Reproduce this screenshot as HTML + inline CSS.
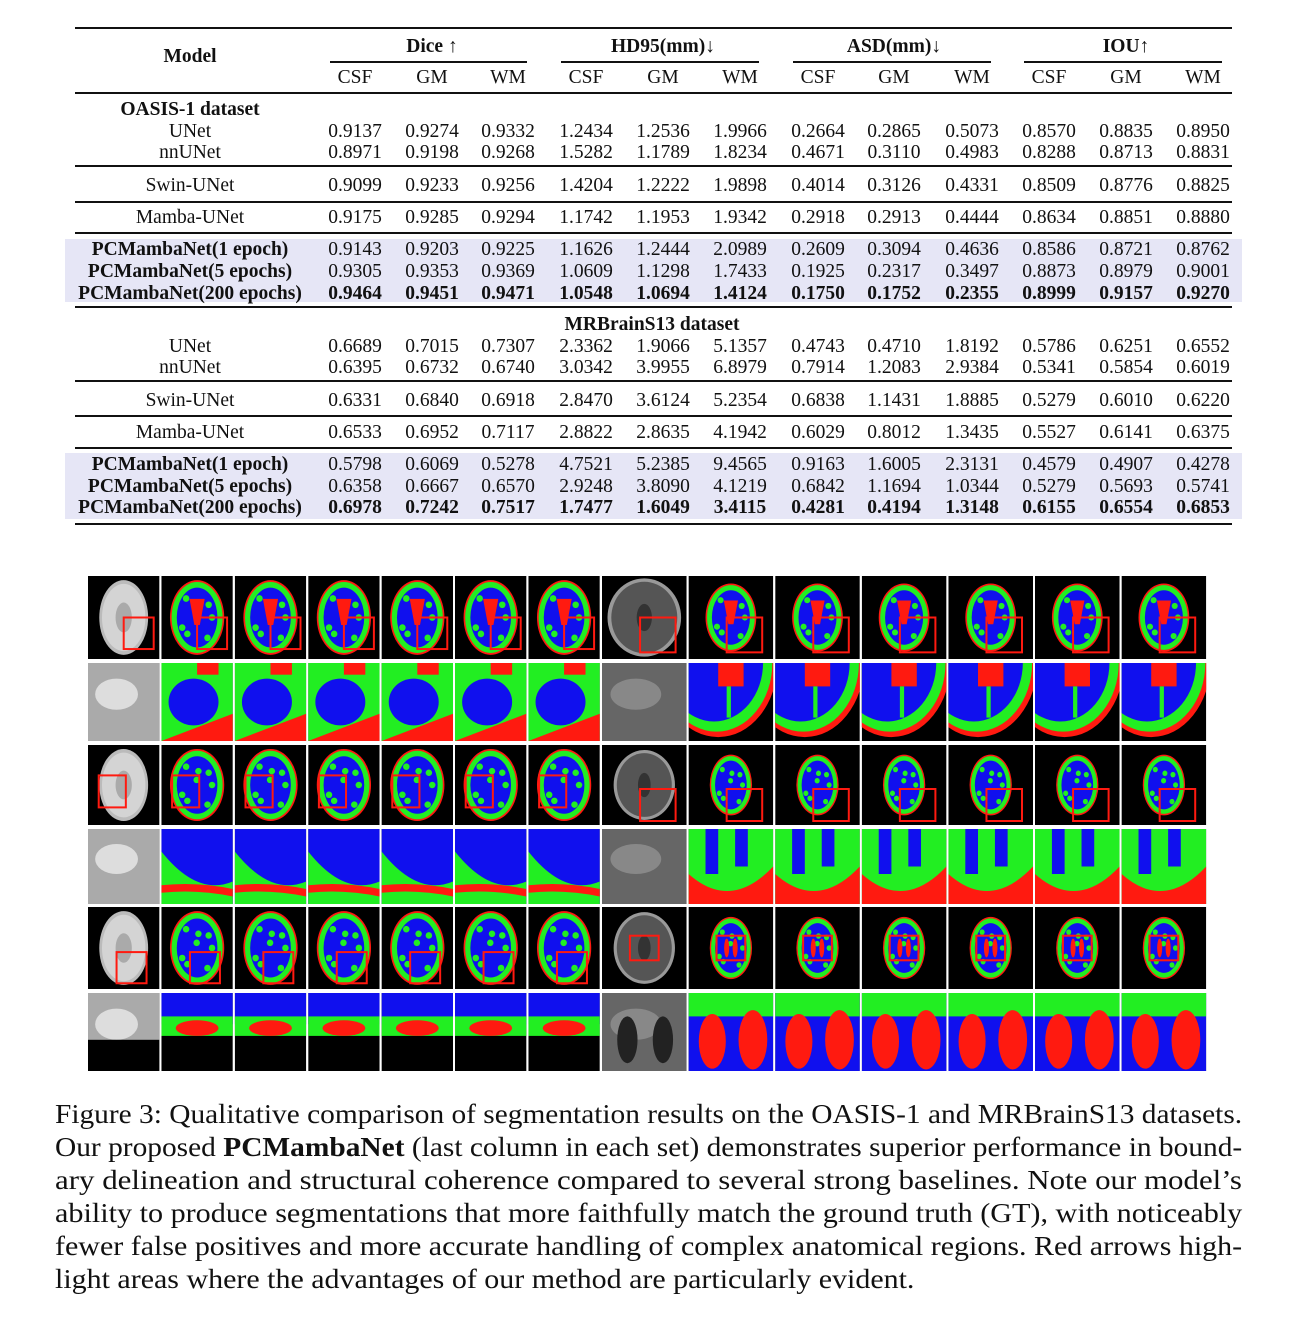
<!DOCTYPE html>
<html><head><meta charset="utf-8">
<style>
html,body{margin:0;padding:0;background:#fff;}
body{width:1297px;height:1326px;position:relative;overflow:hidden;font-family:"Liberation Serif",serif;color:#111;}
.t{position:absolute;font-size:19.5px;white-space:nowrap;transform:translateX(-50%);line-height:22px;}
.b{font-weight:bold;}
.rule{position:absolute;background:#111;}
.shade{position:absolute;background:#e6e6f6;}
.cap{position:absolute;left:55px;font-size:27px;white-space:nowrap;line-height:33px;transform-origin:0 0;}
</style></head>
<body>
<div id="table"></div>
<svg id="grid" style="position:absolute;left:0;top:0" width="1297" height="1090"><defs id="defs"></defs></svg>
<div id="caption"></div>
<script>
const metricGroups=["Dice ↑","HD95(mm)↓","ASD(mm)↓","IOU↑"];
const subCols=["CSF","GM","WM"];
const oasisModels=["UNet","nnUNet","Swin-UNet","Mamba-UNet","PCMambaNet(1 epoch)","PCMambaNet(5 epochs)","PCMambaNet(200 epochs)"];
const oasisVals=[
["0.9137","0.9274","0.9332","1.2434","1.2536","1.9966","0.2664","0.2865","0.5073","0.8570","0.8835","0.8950"],
["0.8971","0.9198","0.9268","1.5282","1.1789","1.8234","0.4671","0.3110","0.4983","0.8288","0.8713","0.8831"],
["0.9099","0.9233","0.9256","1.4204","1.2222","1.9898","0.4014","0.3126","0.4331","0.8509","0.8776","0.8825"],
["0.9175","0.9285","0.9294","1.1742","1.1953","1.9342","0.2918","0.2913","0.4444","0.8634","0.8851","0.8880"],
["0.9143","0.9203","0.9225","1.1626","1.2444","2.0989","0.2609","0.3094","0.4636","0.8586","0.8721","0.8762"],
["0.9305","0.9353","0.9369","1.0609","1.1298","1.7433","0.1925","0.2317","0.3497","0.8873","0.8979","0.9001"],
["0.9464","0.9451","0.9471","1.0548","1.0694","1.4124","0.1750","0.1752","0.2355","0.8999","0.9157","0.9270"]];
const mrModels=oasisModels;
const mrVals=[
["0.6689","0.7015","0.7307","2.3362","1.9066","5.1357","0.4743","0.4710","1.8192","0.5786","0.6251","0.6552"],
["0.6395","0.6732","0.6740","3.0342","3.9955","6.8979","0.7914","1.2083","2.9384","0.5341","0.5854","0.6019"],
["0.6331","0.6840","0.6918","2.8470","3.6124","5.2354","0.6838","1.1431","1.8885","0.5279","0.6010","0.6220"],
["0.6533","0.6952","0.7117","2.8822","2.8635","4.1942","0.6029","0.8012","1.3435","0.5527","0.6141","0.6375"],
["0.5798","0.6069","0.5278","4.7521","5.2385","9.4565","0.9163","1.6005","2.3131","0.4579","0.4907","0.4278"],
["0.6358","0.6667","0.6570","2.9248","3.8090","4.1219","0.6842","1.1694","1.0344","0.5279","0.5693","0.5741"],
["0.6978","0.7242","0.7517","1.7477","1.6049","3.4115","0.4281","0.4194","1.3148","0.6155","0.6554","0.6853"]];

const T=document.getElementById('table');
const colX=[355,432,508,586,663,740,818,894,972,1049,1126,1203];
function txt(s,x,y,bold,name){const d=document.createElement('div');d.className='t'+(bold?' b':'');d.style.left=x+'px';d.style.top=(y-9.5)+'px';d.textContent=s;


T.appendChild(d);}
function rule(x,y,w,h){const d=document.createElement('div');d.className='rule';d.style.cssText=`left:${x}px;top:${y}px;width:${w}px;height:${h}px`;


T.appendChild(d);}
function shade(y,h){const d=document.createElement('div');d.className='shade';d.style.cssText=`left:65px;top:${y}px;width:1177px;height:${h}px`;


T.appendChild(d);}
shade(239,63);shade(453,66);
rule(75,27,1157,2);rule(75,92,1157,2);rule(75,306,1157,2);rule(75,523,1157,2);
[165,201,232,380,415,447].forEach(y=>rule(75,y,1157,1.5));
for(let g=0;g<4;g++){rule(colX[g*3]-25,61,colX[g*3+2]-colX[g*3]+50-6,1.5);
txt(metricGroups[g],colX[g*3+1],45,true,'metric-header');
for(let s=0;s<3;s++)txt(subCols[s],colX[g*3+s],76,false,'sub-header');}
txt("Model",190,55,true,'model-header');
txt("OASIS-1 dataset",190,108,true,'dataset-label');
txt("MRBrainS13 dataset",652,323,true,'dataset-label');
function block(models,vals,ys){models.forEach((m,i)=>{const bold=i>=4;const last=i==6;
txt(m,190,ys[i],bold,'model-name');vals[i].forEach((v,j)=>txt(v,colX[j],ys[i],last,'value-cell'));});}
block(oasisModels,oasisVals,[130,151,184,216,248,270,292]);
block(mrModels,mrVals,[345,366,399,431,463,485,506]);

// Figure
const S=document.getElementById('grid');const NS='http://www.w3.org/2000/svg';const D=document.getElementById('defs');
function el(t,a,p){const e=document.createElementNS(NS,t);for(const k in a)e.setAttribute(k,a[k]);(p||S).appendChild(e);return e;}
const rowsY=[[576,83],[663,78],[745,80],[829,75],[907,82],[993,78]];
const R='#ff1a10',G='#22ee22',B='#1010ee';
let cid=0;
function cell(x,y,w,h,row,col,right){
 const id='c'+(cid++);
 const cp=el('clipPath',{id},D);el('rect',{x,y,width:w,height:h},cp);
 const g=el('g',{'clip-path':`url(#${id})`});
 
 
 el('rect',{x,y,width:w,height:h,fill:'#000'},g);
 const cx=x+w/2,cy=y+h/2;
 const zoom=row%2==1;
 if(!zoom){
  const rx=right?(row==0?0.3:0.25)*w:0.38*w, ry=right?(row==0?0.41:0.38)*h:0.45*h;
  if(col==0){
   el('ellipse',{cx,cy,rx:right?rx*1.45:rx*0.9,ry:right?ry*1.15:ry,fill:right?'#999':'#bbb'},g);
   el('ellipse',{cx,cy,rx:right?rx*1.3:rx*0.8,ry:right?ry*1.05:ry*0.9,fill:right?'#555':'#d4d4d4'},g);
   el('ellipse',{cx,cy,rx:rx*0.3,ry:ry*0.4,fill:right?'#333':'#aaa'},g);
  }else{
   el('ellipse',{cx,cy,rx,ry,fill:R},g);
   el('ellipse',{cx,cy,rx:rx*0.94,ry:ry*0.95,fill:G},g);
   el('ellipse',{cx,cy,rx:rx*0.75,ry:ry*0.8,fill:B},g);
   for(let k=0;k<8;k++)el('ellipse',{cx:cx+Math.cos(k*0.8)*rx*0.55,cy:cy+Math.sin(k*1.7)*ry*0.55,rx:rx*0.12,ry:ry*0.09,fill:G},g);
   if(row==0)el('path',{d:`M${cx-rx*0.28} ${cy-ry*0.5} L${cx+rx*0.28} ${cy-ry*0.5} L${cx+rx*0.1} ${cy+ry*0.2} L${cx-rx*0.1} ${cy+ry*0.2}Z`,fill:R},g);
   if(right&&row==4){el('ellipse',{cx:cx-rx*0.2,cy,rx:rx*0.12,ry:ry*0.3,fill:R},g);el('ellipse',{cx:cx+rx*0.2,cy,rx:rx*0.12,ry:ry*0.3,fill:R},g);}
  }
  let bx,by,bw,bh;
  if(!right){ if(row==0){bx=cx;by=cy;bw=w*0.42;bh=h*0.38;} else if(row==2){bx=cx-w*0.35;by=cy-h*0.12;bw=w*0.38;bh=h*0.4;} else {bx=cx-w*0.1;by=cy+h*0.05;bw=w*0.42;bh=h*0.38;} }
  else { if(row==0){bx=cx-w*0.05;by=cy;bw=w*0.42;bh=h*0.42;} else if(row==2){bx=cx-w*0.05;by=cy+h*0.05;bw=w*0.42;bh=h*0.4;} else {bx=cx-w*0.17;by=cy-h*0.15;bw=w*0.34;bh=h*0.3;} }
  el('rect',{x:bx,y:by,width:bw,height:bh,fill:'none',stroke:R,'stroke-width':2},g);
 }else{
  if(col==0){
   el('rect',{x,y,width:w,height:h,fill:right?'#666':'#aaa'},g);
   el('ellipse',{cx:cx-w*0.1,cy:cy-h*0.1,rx:w*0.3,ry:h*0.2,fill:right?'#888':'#ddd'},g);
   if(right&&row==5){el('ellipse',{cx:x+w*0.3,cy:cy+h*0.1,rx:w*0.12,ry:h*0.3,fill:'#222'},g);el('ellipse',{cx:x+w*0.72,cy:cy+h*0.1,rx:w*0.12,ry:h*0.3,fill:'#222'},g);}
   if(!right&&row==5)el('rect',{x,y:y+h*0.6,width:w,height:h*0.4,fill:'#000'},g);
  }else if(!right){
   if(row==1){el('rect',{x,y,width:w,height:h,fill:G},g);el('ellipse',{cx:cx-w*0.05,cy:cy,rx:w*0.35,ry:h*0.3,fill:B},g);el('path',{d:`M${x} ${y+h} L${x+w} ${y+h*0.65} L${x+w} ${y+h} Z`,fill:R},g);el('rect',{x:cx,y,width:w*0.3,height:h*0.15,fill:R},g);}
   else if(row==3){el('rect',{x,y,width:w,height:h,fill:B},g);el('path',{d:`M${x} ${y+h*0.3} Q${cx} ${y+h*0.9} ${x+w} ${y+h*0.7} L${x+w} ${y+h} L${x} ${y+h} Z`,fill:G},g);el('path',{d:`M${x} ${y+h*0.75} Q${cx} ${y+h*0.7} ${x+w} ${y+h*0.8} L${x+w} ${y+h*0.9} Q${cx} ${y+h*0.8} ${x} ${y+h*0.85}Z`,fill:R},g);}
   else {el('rect',{x,y,width:w,height:h*0.4,fill:B},g);el('rect',{x,y:y+h*0.3,width:w,height:h*0.25,fill:G},g);el('ellipse',{cx,cy:y+h*0.45,rx:w*0.3,ry:h*0.1,fill:R},g);}
  }else{
   if(row==1){el('ellipse',{cx:cx-w*0.15,cy:y,rx:w*0.7,ry:h*0.95,fill:R},g);el('ellipse',{cx:cx-w*0.17,cy:y,rx:w*0.66,ry:h*0.88,fill:G},g);el('ellipse',{cx:cx-w*0.2,cy:y,rx:w*0.58,ry:h*0.75,fill:B},g);el('rect',{x:cx-w*0.15,y,width:w*0.3,height:h*0.3,fill:R},g);el('rect',{x:cx-w*0.05,y:y+h*0.3,width:w*0.05,height:h*0.4,fill:G},g);}
   else if(row==3){el('rect',{x,y,width:w,height:h,fill:G},g);el('path',{d:`M${x} ${y+h*0.6} Q${cx} ${y+h*1.1} ${x+w} ${y+h*0.5} L${x+w} ${y+h} L${x} ${y+h}Z`,fill:R},g);el('rect',{x:x+w*0.2,y,width:w*0.15,height:h*0.6,fill:B},g);el('rect',{x:x+w*0.55,y,width:w*0.15,height:h*0.5,fill:B},g);}
   else {el('rect',{x,y,width:w,height:h,fill:B},g);el('rect',{x,y,width:w,height:h*0.3,fill:G},g);el('ellipse',{cx:x+w*0.28,cy:cy+h*0.12,rx:w*0.16,ry:h*0.35,fill:R},g);el('ellipse',{cx:x+w*0.76,cy:cy+h*0.1,rx:w*0.17,ry:h*0.38,fill:R},g);}
  }
 }
}
for(let r=0;r<6;r++){const [y,h]=rowsY[r];
 for(let c=0;c<7;c++){cell(88+73.4*c,y,71.4,h,r,c,false);cell(602+86.6*c,y,84.6,h,r,c,true);}}

// Caption
const capLines=["Figure 3: Qualitative comparison of segmentation results on the OASIS-1 and MRBrainS13 datasets.",
"Our proposed <b>PCMambaNet</b> (last column in each set) demonstrates superior performance in bound-",
"ary delineation and structural coherence compared to several strong baselines. Note our model’s",
"ability to produce segmentations that more faithfully match the ground truth (GT), with noticeably",
"fewer false positives and more accurate handling of complex anatomical regions. Red arrows high-",
"light areas where the advantages of our method are particularly evident."];
const C=document.getElementById('caption');let sum=0,n=0;const ds=[];
capLines.forEach((l,i)=>{const d=document.createElement('div');d.className='cap';d.style.top=(1098+33*i)+'px';d.innerHTML=l;


C.appendChild(d);ds.push(d);});
ds.forEach((d,i)=>{if(i<5){const s=1187/d.scrollWidth;sum+=s;n++;d.style.transform=`scaleX(${s})`;}});
ds[5].style.transform=`scaleX(${sum/n})`;
</script>
</body></html>
